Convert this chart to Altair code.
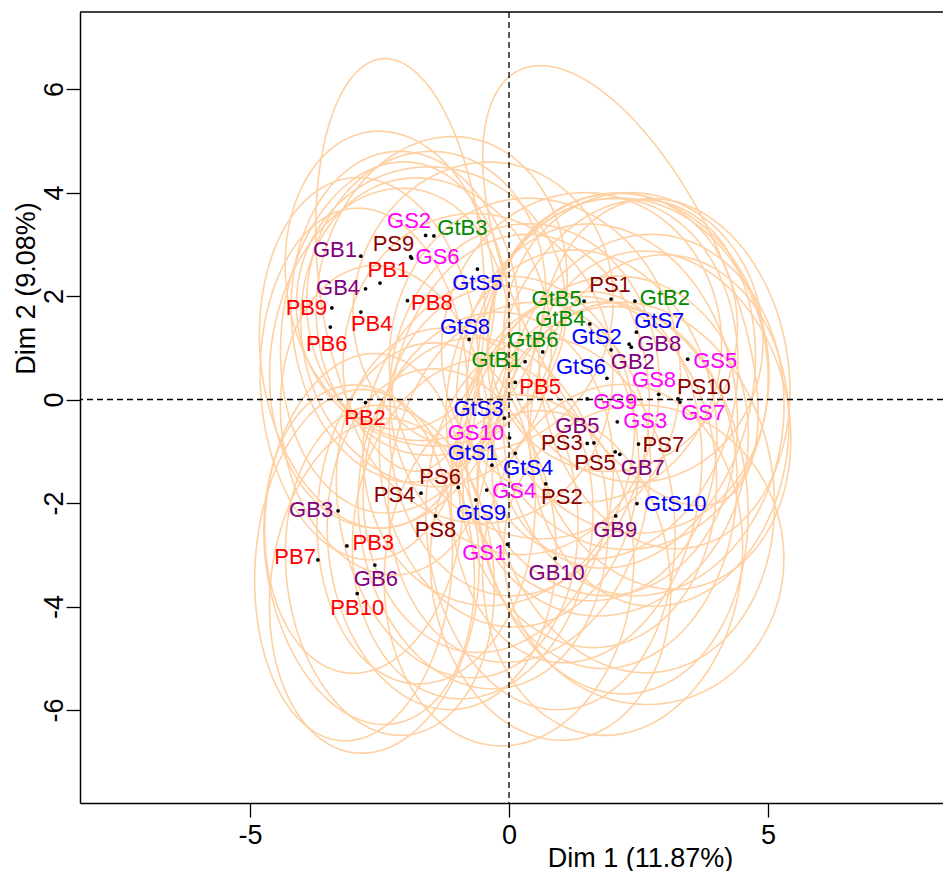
import altair as alt
import numpy as np
import pandas as pd

FONT = "Liberation Sans"

# individuals (label, dot coordinates on Dim 1 / Dim 2)
names = ["GS2", "GtB3", "GB1", "PS9", "GS6", "PB1", "GB4", "PB9", "PB4", "PB6",
         "PB8", "GtS5", "GtS8", "GtB1", "GtB6", "GtB5", "PS1", "GtB2", "GtB4", "GtS7",
         "GtS2", "GB8", "GB2", "GtS6", "PB5", "GS5", "GS8", "PS10", "GS7", "GS9",
         "GS3", "GB5", "PS3", "PS7", "PS5", "GB7", "GtS4", "PS2", "GtS10", "GB9",
         "GB10", "GS1", "PB2", "GtS3", "GS10", "GtS1", "PS6", "PS4", "GS4", "GtS9",
         "PS8", "GB3", "PB3", "PB7", "GB6", "PB10"]
dim1 = [-1.61, -1.45, -2.86, -1.90, -1.88, -2.49, -2.77, -3.42, -2.86, -3.45,
        -1.96, -0.61, -0.77, 0.31, 0.65, 1.45, 1.97, 2.43, 1.56, 2.46,
        1.97, 2.32, 2.36, 1.89, 0.12, 3.45, 2.89, 3.26, 3.30, 1.51,
        2.09, 1.64, 1.51, 2.50, 2.05, 2.14, 0.12, 0.71, 2.47, 2.06,
        0.89, -0.03, -2.77, -0.09, 0.01, -0.33, -0.98, -1.70, -0.43, -0.64,
        -1.42, -3.30, -3.13, -3.69, -2.59, -2.93]
dim2 = [3.17, 3.16, 2.77, 2.76, 2.73, 2.25, 2.14, 1.77, 1.69, 1.40,
        1.91, 2.52, 1.16, 0.73, 0.92, 1.90, 1.94, 1.90, 1.46, 1.30,
        0.96, 1.07, 1.01, 0.41, 0.33, 0.78, 0.10, 0.01, -0.05, 0.01,
        -0.43, -0.84, -0.85, -0.86, -1.01, -1.06, -1.04, -1.63, -2.01, -2.25,
        -3.07, -2.80, -0.06, -0.36, -0.74, -1.27, -1.70, -1.81, -1.75, -1.94,
        -2.25, -2.15, -2.83, -3.10, -3.20, -3.75]
# label anchor positions
lab1 = [-1.93, -0.90, -3.36, -2.23, -1.38, -2.33, -3.30, -3.91, -2.65, -3.52,
        -1.49, -0.61, -0.85, -0.24, 0.47, 0.92, 1.95, 3.01, 0.99, 2.90,
        1.69, 2.90, 2.39, 1.39, 0.60, 3.98, 2.80, 3.76, 3.75, 2.05,
        2.63, 1.32, 1.02, 2.98, 1.66, 2.58, 0.37, 1.02, 3.21, 2.05,
        0.92, -0.48, -2.78, -0.59, -0.64, -0.70, -1.33, -2.21, 0.10, -0.54,
        -1.42, -3.82, -2.62, -4.13, -2.57, -2.93]
lab2 = [3.44, 3.31, 2.88, 3.00, 2.75, 2.50, 2.16, 1.77, 1.45, 1.07,
        1.86, 2.25, 1.41, 0.76, 1.15, 1.94, 2.21, 1.97, 1.55, 1.52,
        1.20, 1.07, 0.72, 0.63, 0.25, 0.74, 0.38, 0.25, -0.27, -0.04,
        -0.42, -0.51, -0.85, -0.87, -1.23, -1.32, -1.32, -1.88, -2.01, -2.52,
        -3.35, -2.97, -0.35, -0.19, -0.65, -1.04, -1.49, -1.85, -1.77, -2.20,
        -2.52, -2.14, -2.78, -3.04, -3.47, -4.02]
# confidence ellipses: centre, semi-axes and rotation (degrees), one per individual
ell_cx = [-2.10, -1.30, -2.30, -1.60, -1.50, -2.00, -2.20, -2.70, -2.30, -2.80,
          -1.60, -0.50, -0.60, 0.30, 0.50, 2.15, 2.00, 2.40, 1.40, 2.30,
          1.80, 2.20, 2.20, 1.70, 0.20, 3.00, 2.60, 2.90, 2.90, 1.40,
          1.90, 1.50, 1.30, 2.40, 1.90, 2.00, 0.20, 0.80, 2.60, 2.00,
          0.80, 0.00, -2.40, -0.20, 0.00, -0.40, -1.00, -1.60, -0.50, -0.70,
          -1.30, -2.80, -2.70, -3.00, -2.30, -2.60]
ell_cy = [2.60, 2.00, 2.30, 2.00, 1.80, 1.60, 1.20, 0.90, 0.80, 0.30,
          1.30, 1.80, 0.60, 0.20, 0.60, 2.20, 1.30, 1.20, 1.00, 0.70,
          0.40, 0.50, 0.30, -0.20, -0.30, 0.50, -0.30, -0.40, -0.60, -0.50,
          -0.90, -1.40, -1.50, -1.70, -1.70, -1.90, -1.60, -2.40, -3.00, -3.10,
          -3.40, -3.30, -0.40, -0.80, -1.10, -1.60, -2.00, -2.20, -2.20, -2.50,
          -2.70, -2.20, -3.00, -3.20, -3.30, -3.60]
ell_a = [1.60, 2.40, 2.00, 2.30, 2.60, 2.20, 2.20, 2.10, 2.30, 2.00,
         2.40, 2.50, 2.60, 2.60, 2.80, 4.60, 2.40, 2.50, 2.70, 2.70,
         2.60, 2.80, 2.50, 2.70, 2.50, 2.40, 2.70, 2.50, 2.50, 2.60,
         2.70, 2.50, 2.40, 2.70, 2.50, 2.60, 2.50, 2.40, 2.70, 2.50,
         2.30, 2.40, 2.00, 2.60, 2.50, 2.40, 2.30, 2.10, 2.40, 2.30,
         2.20, 1.90, 2.00, 1.90, 2.00, 2.00]
ell_b = [4.00, 3.10, 2.90, 2.80, 2.70, 3.20, 3.40, 3.40, 3.30, 3.40,
         3.00, 2.80, 3.00, 3.20, 3.30, 2.00, 2.70, 2.80, 3.00, 3.30,
         3.50, 3.40, 3.60, 3.60, 3.50, 3.40, 3.50, 3.30, 3.40, 3.40,
         3.30, 3.40, 3.60, 3.60, 3.50, 3.80, 3.50, 3.60, 2.90, 3.40,
         3.20, 3.40, 3.00, 3.20, 3.30, 3.30, 3.40, 3.30, 3.40, 3.30,
         3.30, 3.10, 3.30, 3.40, 3.20, 3.25]
ell_rot = [5, -10, 8, -6, 12, 4, -5, 6, -8, 3,
           10, -12, 6, -4, 8, 115, -10, 6, -6, 10,
           -8, 4, -12, 6, -5, 8, -6, 12, -4, 7,
           -10, 5, -7, 9, -3, 6, -9, 4, 10, -6,
           8, -5, 6, -10, 4, -7, 9, -4, 6, -8,
           5, -6, 8, -4, 6, -7]

GROUPS = ["PB", "PS", "GB", "GS", "GtB", "GtS"]
GCOLS = ["#FF0000", "#8B0000", "#800080", "#FF00FF", "#008B00", "#0000FF"]


def group_of(n):
    return n.rstrip("0123456789")


pts = pd.DataFrame({"name": names, "x": dim1, "y": dim2,
                    "grp": [group_of(n) for n in names]})
labs = pd.DataFrame({"name": names, "x": lab1, "y": lab2,
                     "grp": [group_of(n) for n in names]})

rows = []
t = np.linspace(0, 2 * np.pi, 121)
for i, n in enumerate(names):
    th = np.deg2rad(ell_rot[i])
    ex = ell_cx[i] + ell_a[i] * np.cos(t) * np.cos(th) - ell_b[i] * np.sin(t) * np.sin(th)
    ey = ell_cy[i] + ell_a[i] * np.cos(t) * np.sin(th) + ell_b[i] * np.sin(t) * np.cos(th)
    for k in range(len(t)):
        rows.append({"id": n, "k": k, "x": float(ex[k]), "y": float(ey[k])})
ell = pd.DataFrame(rows)

W, H = 863, 791
xscale = alt.Scale(domain=[-8.282, 8.378], nice=False, zero=False)
yscale = alt.Scale(domain=[-7.797, 7.488], nice=False, zero=False)

LABEL_EXPR = "datum.value < 0 ? '-' + abs(datum.value) : '' + datum.value"

xaxis = alt.Axis(values=[-5, 0, 5], title="Dim 1 (11.87%)", grid=False,
                 tickSize=14, tickWidth=1.3, tickColor="black",
                 domainColor="black", domainWidth=1.5,
                 labelFont=FONT, labelFontSize=27, labelColor="black",
                 labelExpr=LABEL_EXPR,
                 labelBaseline="alphabetic", labelPadding=26, labelFlush=False,
                 labelOverlap=False,
                 titleFont=FONT, titleFontSize=27, titleFontWeight="normal",
                 titleColor="black", titleX=560, titleY=55,
                 titleBaseline="middle", titleAlign="center")
yaxis = alt.Axis(values=[-6, -4, -2, 0, 2, 4, 6], title="Dim 2 (9.08%)", grid=False,
                 tickSize=14, tickWidth=1.3, tickColor="black",
                 domainColor="black", domainWidth=1.5,
                 labelFont=FONT, labelFontSize=27, labelColor="black",
                 labelExpr=LABEL_EXPR,
                 labelAngle=270, labelAlign="center", labelBaseline="alphabetic",
                 labelPadding=4, labelFlush=False, labelOverlap=False,
                 titleFont=FONT, titleFontSize=27, titleFontWeight="normal",
                 titleColor="black", titleAngle=270, titleX=-54, titleY=276,
                 titleBaseline="middle", titleAlign="center")


def X():
    return alt.X("x:Q", scale=xscale, axis=xaxis)


def Y():
    return alt.Y("y:Q", scale=yscale, axis=yaxis)


ellipses = alt.Chart(ell).mark_line(color="#FFD0A2", strokeWidth=1.6).encode(
    x=X(), y=Y(), detail="id:N", order="k:Q")

zero = pd.DataFrame({"x": [0.0], "y": [0.0]})
vline = alt.Chart(zero).mark_rule(color="black", strokeWidth=1.3, strokeDash=[6, 4]).encode(x=X())
hline = alt.Chart(zero).mark_rule(color="black", strokeWidth=1.3, strokeDash=[6, 4]).encode(y=Y())

topline = alt.Chart(zero).mark_rule(color="black", strokeWidth=1.5).encode(
    x=alt.value(0), x2=alt.value(W), y=alt.value(0))

dots = alt.Chart(pts).mark_circle(color="black", size=14, opacity=1).encode(x=X(), y=Y())

texts = alt.Chart(labs).mark_text(font=FONT, fontSize=22, align="center",
                                  baseline="middle").encode(
    x=X(), y=Y(), text="name:N",
    color=alt.Color("grp:N", scale=alt.Scale(domain=GROUPS, range=GCOLS), legend=None))

chart = alt.layer(ellipses, vline, hline, topline, dots, texts).properties(
    width=W, height=H,
    autosize=alt.AutoSizeParams(type="none"),
    padding={"left": 72, "top": 4, "right": 0, "bottom": 68},
).configure_view(stroke=None)

chart.save("out.html", embed_options={"renderer": "svg", "actions": False})
